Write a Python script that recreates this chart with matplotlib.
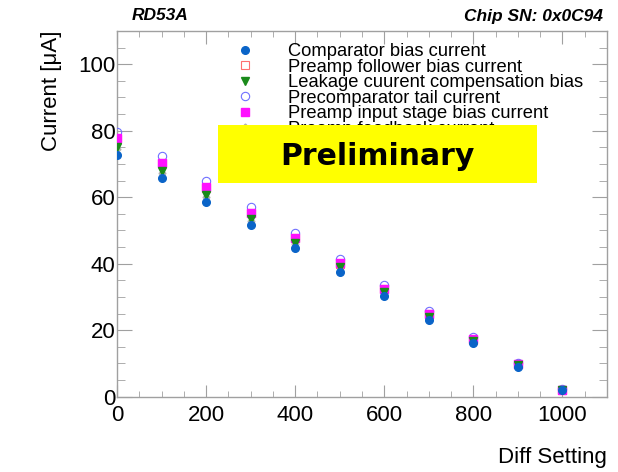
import matplotlib
matplotlib.use("Agg")
import matplotlib.pyplot as plt
from matplotlib.patches import Rectangle
from matplotlib.ticker import MultipleLocator

plt.rcParams['font.family'] = ['Liberation Sans', 'DejaVu Sans']

# DAC scan of the diff front-end bias currents
diff_setting = [0, 100, 200, 300, 400, 500, 600, 700, 800, 900, 1000]
comparator = [72.7, 65.7, 58.7, 51.6, 44.6, 37.6, 30.4, 23.2, 16.1, 9.0, 1.9]
preamp_follower = [77.6, 70.2, 62.8, 55.2, 47.6, 40.0, 32.4, 24.9, 17.2, 9.7, 2.0]
leakage_comp = [75.2, 68.0, 60.8, 53.4, 46.3, 39.0, 31.6, 24.1, 16.7, 9.4, 2.0]
precomparator = [79.7, 72.3, 64.8, 57.0, 49.2, 41.3, 33.5, 25.7, 18.0, 10.2, 2.3]
preamp_input = [77.8, 70.4, 63.0, 55.4, 47.8, 40.2, 32.5, 25.0, 17.3, 9.8, 2.0]
preamp_feedback = [74.6, 67.4, 60.2, 52.9, 45.8, 38.6, 31.2, 23.8, 16.5, 9.2, 1.9]

series = [
    ("Comparator bias current", comparator, dict(marker='o', color='#0a64c8', mfc='#0a64c8', ms=5.5)),
    ("Preamp follower bias current", preamp_follower, dict(marker='s', color='#ff7070', mfc='none', ms=5.5, mew=0.8)),
    ("Leakage cuurent compensation bias", leakage_comp, dict(marker='v', color='#1a8a1a', mfc='#1a8a1a', ms=5.5)),
    ("Precomparator tail current", precomparator, dict(marker='o', color='#7070ff', mfc='none', ms=6, mew=0.8)),
    ("Preamp input stage bias current", preamp_input, dict(marker='s', color='#ff10ff', mfc='#ff10ff', ms=5.5)),
    ("Preamp feedback current", preamp_feedback, dict(marker='D', color='#b0b0b0', mfc='#b0b0b0', ms=3.5)),
]
draw_order = [5, 1, 3, 4, 2, 0]

fig = plt.figure(figsize=(6.18, 4.72), dpi=100)
ax = fig.add_axes([117 / 618, 1 - 396.7 / 472, 490 / 618, 365.7 / 472])

handles = [None] * len(series)
for i in draw_order:
    label, vals, style = series[i]
    h, = ax.plot(diff_setting, vals, linestyle='none', label=label, zorder=3 + draw_order.index(i), **style)
    handles[i] = h

ax.set_xlim(0, 1100)
ax.set_ylim(0, 110)
ax.xaxis.set_major_locator(MultipleLocator(200))
ax.xaxis.set_minor_locator(MultipleLocator(50))
ax.yaxis.set_major_locator(MultipleLocator(20))
ax.yaxis.set_minor_locator(MultipleLocator(5))

for s in ax.spines.values():
    s.set_color('#a0a0a0')
    s.set_linewidth(1.0)
ax.tick_params(which='both', direction='in', top=True, right=True, color='#a0a0a0', labelsize=16)
ax.tick_params(axis='x', which='major', length=9, pad=6)
ax.tick_params(axis='x', which='minor', length=4.5)
ax.tick_params(axis='y', which='major', length=11, pad=1)
ax.tick_params(axis='y', which='minor', length=5.5)

ax.set_xlabel("Diff Setting", fontsize=16, loc='right', labelpad=15)
ax.set_ylabel("Current [μA]", fontsize=16, loc='top', labelpad=12)

fig.text(132 / 618, 1 - 16 / 472, "RD53A", fontsize=12.5, fontweight='bold', style='italic', va='center', ha='left')
fig.text(603 / 618, 1 - 16 / 472, "Chip SN: 0x0C94", fontsize=12.5, fontweight='bold', style='italic', va='center', ha='right')

leg = ax.legend(handles=handles, loc='upper left', bbox_to_anchor=(230 / 618, 1 - 43 / 472),
                bbox_transform=fig.transFigure, frameon=False, fontsize=13.2, borderpad=0,
                borderaxespad=0, handlelength=1.6, handletextpad=1.55, labelspacing=-0.08)
leg.set_zorder(8)

# yellow "Preliminary" banner on top of the legend
fig.patches.append(Rectangle((218 / 618, 1 - 183 / 472), 319 / 618, 58 / 472,
                             transform=fig.transFigure, facecolor='#ffff00', edgecolor='none', zorder=20))
fig.text(377.5 / 618, 1 - 165 / 472, "Preliminary", fontsize=21.5, fontweight='bold', family='DejaVu Sans',
         ha='center', va='baseline', zorder=21)

fig.savefig("out.png", dpi=100)
